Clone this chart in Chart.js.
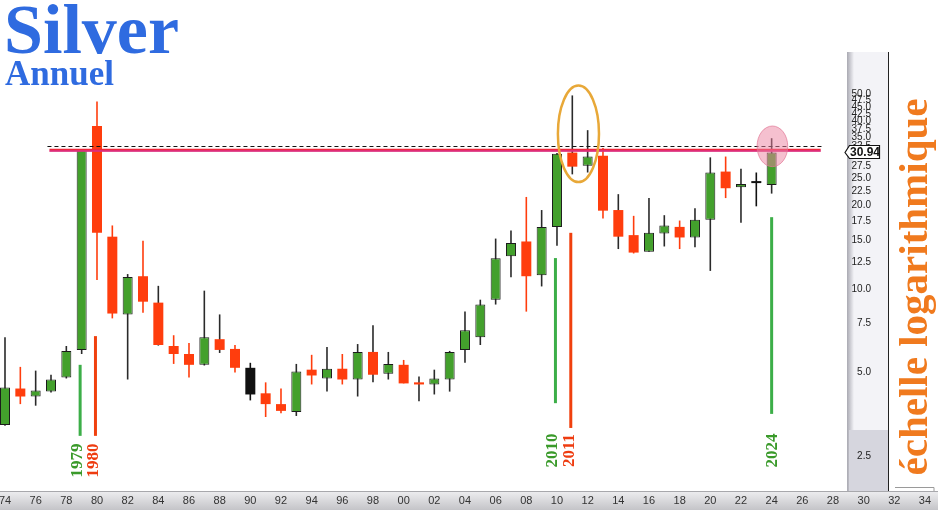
<!DOCTYPE html>
<html>
<head>
<meta charset="utf-8">
<script src="https://cdn.jsdelivr.net/npm/chart.js@4.4.1/dist/chart.umd.min.js"></script>
<style>
html, body { margin: 0; padding: 0; background: #fff; }
#wrap { width: 938px; height: 510px; }
</style>
</head>
<body>
<div id="wrap"><canvas id="myChart" width="938" height="510"></canvas></div>
<script>
// yearly candles (log scale)
var years = [1974,1975,1976,1977,1978,1979,1980,1981,1982,1983,1984,1985,1986,1987,1988,1989,
  1990,1991,1992,1993,1994,1995,1996,1997,1998,1999,2000,2001,2002,2003,2004,2005,2006,2007,
  2008,2009,2010,2011,2012,2013,2014,2015,2016,2017,2018,2019,2020,2021,2022,2023,2024];
var opens = [3.24,4.38,4.10,4.27,4.80,6.03,38.5,15.4,8.09,11.1,8.92,6.23,5.83,5.33,6.59,6.08,
  5.20,4.21,3.85,3.61,5.12,4.76,5.16,4.72,5.93,4.95,5.33,4.61,4.53,4.72,6.03,6.70,9.14,13.1,
  14.8,11.2,16.7,30.9,27.7,30.1,19.2,15.6,13.6,15.8,16.7,15.3,17.7,26.4,23.2,24.0,23.6];
var highs = [6.70,5.24,5.08,4.91,6.23,31.6,47.2,16.9,11.3,14.9,10.25,6.81,6.38,9.85,8.09,6.28,
  5.42,4.61,4.38,5.37,5.79,6.18,5.83,6.33,7.39,5.93,5.55,4.84,5.12,5.98,8.28,9.14,15.16,16.2,
  21.4,19.2,30.8,49.6,37.2,32.1,21.9,18.3,21.2,18.4,17.6,19.5,29.7,29.9,27.0,26.2,34.8];
var lows = [3.22,3.85,3.80,4.24,4.76,5.83,10.76,7.83,4.72,8.21,6.25,5.37,4.80,5.30,5.88,5.00,
  3.97,3.46,3.57,3.49,4.53,4.27,4.53,4.10,4.61,4.72,4.57,3.94,4.17,4.27,5.42,6.28,8.78,11.0,
  8.28,10.2,14.3,25.8,26.2,17.9,13.9,13.4,13.6,14.2,13.9,14.1,11.6,21.2,17.3,19.8,22.0];
var closes = [4.42,4.10,4.31,4.72,5.98,31.6,15.9,8.15,11.03,8.99,6.28,5.83,5.33,6.70,6.03,5.20,
  4.17,3.85,3.64,5.04,4.88,5.16,4.72,5.93,4.91,5.37,4.57,4.53,4.76,5.93,7.10,8.78,12.88,14.6,
  11.1,16.7,30.6,27.5,29.9,19.1,15.4,13.5,15.9,16.9,15.3,17.7,26.2,23.0,23.8,24.0,30.94];
var blackYears = [1990, 2023];
var darkWickYears = [1984, 1988, 1998, 2001, 2011, 2014];

var xTickYears = [1974,1976,1978,1980,1982,1984,1986,1988,1990,1992,1994,1996,1998,2000,2002,
  2004,2006,2008,2010,2012,2014,2016,2018,2020,2022,2024,2026,2028,2030,2032,2034];
var xTickLabels = ["74","76","78","80","82","84","86","88","90","92","94","96","98","00","02",
  "04","06","08","10","12","14","16","18","20","22","24","26","28","30","32","34"];
var yTickValues = [2.5,5,7.5,10,12.5,15,17.5,20,22.5,25,27.5,30,32.5,35,37.5,40,42.5,45,47.5,50];

var lastPrice = 30.94;
var resistance = 31.5;
var dashedLevel = 32.7;
var lineFrom = 1976.9, lineTo = 2027.2;

// marker lines under the key years
var markerYears = [1978.9, 1979.9, 2009.9, 2010.9, 2024.0];
var markerTops = [5.33, 6.76, 12.9, 15.9, 18.1];
var markerBottoms = [2.96, 2.96, 3.88, 3.16, 3.55];
var markerUp = [true, false, true, false, true];
var yearLabels = ["1979", "1980", "2010", "2011", "2024"];
var yearLabelX = [1978.75, 1979.75, 2009.7, 2010.85, 2024.05];
var yearLabelY = [2.415, 2.415, 2.62, 2.62, 2.62];

var GREEN = '#43a02c', RED = '#ff3d0d', BLACK = '#111111';

function isBlack(i) { return blackYears.indexOf(years[i]) >= 0; }
function bodyColor(i) {
  if (isBlack(i)) return BLACK;
  return closes[i] >= opens[i] ? GREEN : RED;
}
function wickColor(i) {
  if (isBlack(i)) return BLACK;
  if (darkWickYears.indexOf(years[i]) >= 0) return '#2a2a2a';
  return closes[i] >= opens[i] ? '#2a2a2a' : RED;
}

var wickData = years.map(function (y, i) { return {x: y, y: [lows[i], highs[i]]}; });
var bodyData = years.map(function (y, i) { return {x: y, y: [opens[i], closes[i]]}; });

var decor = {
  id: 'decor',
  beforeDraw: function (chart) {
    var ctx = chart.ctx, ca = chart.chartArea, W = chart.width, H = chart.height;
    ctx.save();
    ctx.fillStyle = '#fff';
    ctx.fillRect(0, 0, W, H);
    // bottom time band
    var g = ctx.createLinearGradient(0, ca.bottom, 0, H);
    g.addColorStop(0, '#eeeef0');
    g.addColorStop(1, '#c4c4c8');
    ctx.fillStyle = g;
    ctx.fillRect(0, ca.bottom, W, H - ca.bottom);
    ctx.strokeStyle = '#a8a8ac';
    ctx.lineWidth = 1;
    ctx.beginPath(); ctx.moveTo(0, ca.bottom + 0.5); ctx.lineTo(W, ca.bottom + 0.5); ctx.stroke();
    // price strip
    ctx.fillStyle = '#f3f3f7';
    ctx.fillRect(848, 52, 40, ca.bottom - 52);
    var g2 = ctx.createLinearGradient(847, 0, 854, 0);
    g2.addColorStop(0, '#a9a9b2');
    g2.addColorStop(1, '#f3f3f7');
    ctx.fillStyle = g2;
    ctx.fillRect(847, 52, 7, ca.bottom - 52);
    ctx.fillStyle = '#d6d6de';
    ctx.fillRect(849, 430, 39, ca.bottom - 430);
    ctx.strokeStyle = '#222';
    ctx.beginPath(); ctx.moveTo(888.5, 52); ctx.lineTo(888.5, ca.bottom); ctx.stroke();
    ctx.strokeStyle = '#9a9a9a';
    ctx.beginPath(); ctx.moveTo(895, 487.5); ctx.lineTo(934, 487.5); ctx.lineTo(934, ca.bottom); ctx.stroke();
    ctx.restore();
  },
  afterDatasetsDraw: function (chart) {
    var ctx = chart.ctx, xs = chart.scales.x, ys = chart.scales.y;
    ctx.save();
    // vertical markers
    for (var i = 0; i < markerYears.length; i++) {
      var mx = xs.getPixelForValue(markerYears[i]);
      ctx.strokeStyle = markerUp[i] ? '#3cae48' : '#f0400e';
      ctx.lineWidth = 3;
      ctx.beginPath();
      ctx.moveTo(mx, ys.getPixelForValue(markerTops[i]));
      ctx.lineTo(mx, ys.getPixelForValue(markerBottoms[i]));
      ctx.stroke();
    }
    // dashed level
    var x1 = xs.getPixelForValue(lineFrom), x2 = xs.getPixelForValue(lineTo);
    var yd = Math.round(ys.getPixelForValue(dashedLevel)) + 0.5;
    ctx.strokeStyle = '#111';
    ctx.lineWidth = 1;
    ctx.setLineDash([4, 3]);
    ctx.beginPath(); ctx.moveTo(x1 - 2, yd); ctx.lineTo(x2 + 2, yd); ctx.stroke();
    ctx.setLineDash([]);
    // resistance line
    var yr = ys.getPixelForValue(resistance);
    ctx.strokeStyle = '#f0263a';
    ctx.lineWidth = 3;
    ctx.beginPath(); ctx.moveTo(x1, yr); ctx.lineTo(x2, yr); ctx.stroke();
    ctx.strokeStyle = 'rgba(200,60,200,0.55)';
    ctx.lineWidth = 1.5;
    ctx.beginPath(); ctx.moveTo(x1, yr + 0.8); ctx.lineTo(x2, yr + 0.8); ctx.stroke();
    // orange ellipse round 2011-2012
    var ex = xs.getPixelForValue(2011.4);
    var erx = xs.getPixelForValue(2011.4 + 1.34) - ex;
    var eyt = ys.getPixelForValue(53.8), eyb = ys.getPixelForValue(24.2);
    ctx.strokeStyle = '#e8a838';
    ctx.lineWidth = 2.5;
    ctx.beginPath();
    ctx.ellipse(ex, (eyt + eyb) / 2, erx, (eyb - eyt) / 2, 0, 0, Math.PI * 2);
    ctx.stroke();
    // pink spot on 2024 high
    var px = xs.getPixelForValue(2024.05);
    var prx = xs.getPixelForValue(2024.05 + 1.0) - px;
    var pyt = ys.getPixelForValue(38.5), pyb = ys.getPixelForValue(27.5);
    ctx.fillStyle = 'rgba(236,130,160,0.5)';
    ctx.strokeStyle = 'rgba(225,120,150,0.7)';
    ctx.lineWidth = 1;
    ctx.beginPath();
    ctx.ellipse(px, (pyt + pyb) / 2, prx, (pyb - pyt) / 2, 0, 0, Math.PI * 2);
    ctx.fill();
    ctx.stroke();
    ctx.restore();
  },
  afterDraw: function (chart) {
    var ctx = chart.ctx, xs = chart.scales.x, ys = chart.scales.y;
    ctx.save();
    // title
    ctx.fillStyle = '#2f6be0';
    ctx.textAlign = 'left';
    ctx.textBaseline = 'alphabetic';
    ctx.font = 'bold 70px "Liberation Serif", "DejaVu Serif", serif';
    ctx.fillText('Silver', 4, 53);
    ctx.font = 'bold 35px "Liberation Serif", "DejaVu Serif", serif';
    ctx.fillText('Annuel', 5, 85);
    // rotated years
    ctx.font = 'bold 17px "Liberation Serif", serif';
    ctx.textAlign = 'center';
    ctx.textBaseline = 'middle';
    for (var i = 0; i < yearLabels.length; i++) {
      ctx.save();
      ctx.translate(xs.getPixelForValue(yearLabelX[i]), ys.getPixelForValue(yearLabelY[i]));
      ctx.rotate(-Math.PI / 2);
      ctx.fillStyle = markerUp[i] ? '#3a9a2a' : '#ee3c10';
      ctx.fillText(yearLabels[i], 0, 0);
      ctx.restore();
    }
    // side caption
    ctx.save();
    ctx.translate(927, 287);
    ctx.rotate(-Math.PI / 2);
    ctx.font = 'bold 41px "Liberation Serif", serif';
    ctx.fillStyle = '#f07a1e';
    ctx.textAlign = 'center';
    ctx.textBaseline = 'alphabetic';
    ctx.fillText('échelle logarithmique', 0, 0);
    ctx.restore();
    // last price box
    var yp = Math.round(ys.getPixelForValue(lastPrice)) + 0.5;
    ctx.beginPath();
    ctx.moveTo(845, yp);
    ctx.lineTo(849.5, yp - 7);
    ctx.lineTo(879.5, yp - 7);
    ctx.lineTo(879.5, yp + 6);
    ctx.lineTo(849.5, yp + 6);
    ctx.closePath();
    ctx.fillStyle = '#fff';
    ctx.fill();
    ctx.strokeStyle = '#111';
    ctx.lineWidth = 1.2;
    ctx.stroke();
    ctx.fillStyle = '#111';
    ctx.font = 'bold 12px Arial, "Liberation Sans", sans-serif';
    ctx.textAlign = 'center';
    ctx.textBaseline = 'middle';
    ctx.fillText(lastPrice.toFixed(2), 865, yp);
    ctx.restore();
  }
};

new Chart("myChart", {
  type: "bar",
  data: {
    datasets: [{
      label: 'wick',
      data: wickData,
      backgroundColor: years.map(function (y, i) { return wickColor(i); }),
      borderWidth: 0,
      maxBarThickness: 1.6,
      grouped: false,
      order: 2
    }, {
      label: 'body',
      data: bodyData,
      backgroundColor: years.map(function (y, i) { return bodyColor(i); }),
      borderColor: years.map(function (y, i) { return closes[i] >= opens[i] && !isBlack(i) ? '#1c1c1c' : bodyColor(i); }),
      borderWidth: years.map(function (y, i) { return closes[i] >= opens[i] && !isBlack(i) ? 1 : 0; }),
      borderSkipped: false,
      maxBarThickness: 10,
      minBarLength: 2,
      grouped: false,
      order: 1
    }]
  },
  options: {
    responsive: false,
    animation: false,
    layout: {padding: 0},
    plugins: {
      legend: {display: false},
      title: {display: false},
      tooltip: {enabled: false}
    },
    scales: {
      x: {
        type: 'linear',
        position: 'bottom',
        offset: false,
        min: 1973.674,
        max: 2034.85,
        grid: {display: false, drawTicks: false, offset: false},
        border: {display: false},
        afterBuildTicks: function (s) { s.ticks = xTickYears.map(function (v) { return {value: v}; }); },
        afterFit: function (s) { s.height = 19; s.paddingLeft = 0; s.paddingRight = 0; },
        ticks: {
          autoSkip: false,
          maxRotation: 0,
          padding: 3,
          color: '#333',
          font: {family: 'Arial, "Liberation Sans", sans-serif', size: 11},
          callback: function (v, i) { return xTickLabels[i]; }
        }
      },
      y: {
        type: 'logarithmic',
        min: 1.875,
        max: 104,
        position: {x: 2030.48},
        grid: {display: false, drawTicks: false},
        border: {display: false},
        afterBuildTicks: function (s) { s.ticks = yTickValues.map(function (v) { return {value: v}; }); },
        ticks: {
          autoSkip: false,
          padding: 0,
          color: '#222',
          font: {family: 'Arial, "Liberation Sans", sans-serif', size: 10},
          callback: function (v) { return Number(v).toFixed(1); }
        }
      }
    }
  },
  plugins: [decor]
});
</script>
</body>
</html>
